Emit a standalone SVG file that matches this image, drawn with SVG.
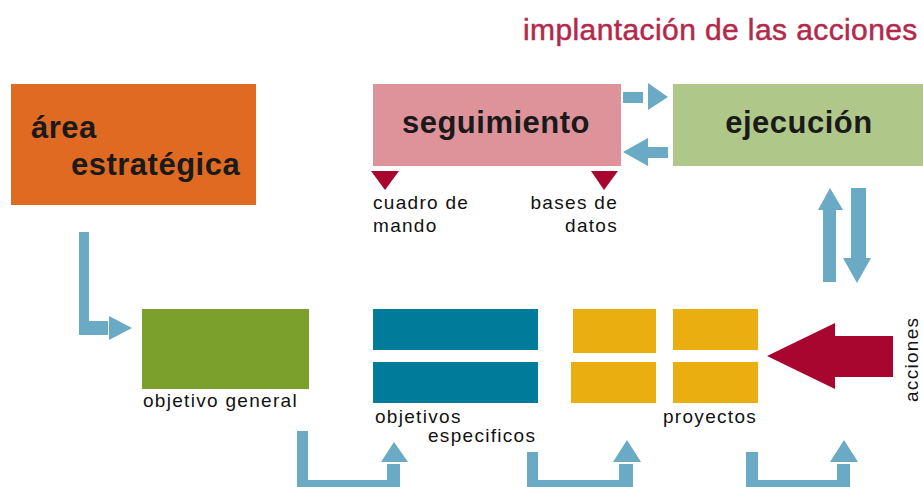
<svg xmlns="http://www.w3.org/2000/svg" width="923" height="487" viewBox="0 0 923 487">
<style>
.big{font-family:"Liberation Sans",Arial,sans-serif;font-weight:bold;font-size:31px;letter-spacing:0.5px;fill:#1a1a1a}
.lbl{font-family:"Liberation Sans",Arial,sans-serif;font-size:19px;letter-spacing:1.3px;fill:#111}
.conn{fill:#6aaac4}
.red{fill:#a8062f}
</style>
<rect width="923" height="487" fill="#fff"/>
<text x="523" y="40" font-family="Liberation Sans,Arial,sans-serif" font-size="30" letter-spacing="0.4" fill="#b3294c" stroke="#b3294c" stroke-width="0.5">implantación de las acciones</text>

<g id="area">
<rect x="11" y="84" width="245" height="121" fill="#e06a22"/>
<text class="big" x="31" y="138">área</text>
<text class="big" x="71" y="175">estratégica</text>
</g>
<g id="seguimiento">
<rect x="373" y="84" width="248" height="82" fill="#de939b"/>
<text class="big" x="496" y="133" text-anchor="middle">seguimiento</text>
<polygon class="red" points="371,171 399,171 385,190"/>
<polygon class="red" points="591,171 618,171 604,190"/>
<text class="lbl" x="373" y="209">cuadro de</text>
<text class="lbl" x="373" y="232">mando</text>
<text class="lbl" x="618" y="209" text-anchor="end">bases de</text>
<text class="lbl" x="618" y="232" text-anchor="end">datos</text>
</g>
<g id="ejecucion">
<rect x="673" y="84" width="250" height="82" fill="#afc88a"/>
<text class="big" x="799" y="133" text-anchor="middle">ejecución</text>
</g>
<g id="objetivo-general">
<rect x="142" y="309" width="167" height="80" fill="#7ba02c"/>
<text class="lbl" x="143" y="407">objetivo general</text>
</g>
<g id="objetivos-especificos">
<rect x="373" y="309" width="165" height="41" fill="#007b9a"/>
<rect x="373" y="362" width="165" height="41" fill="#007b9a"/>
<text class="lbl" x="375" y="423">objetivos</text>
<text class="lbl" x="428" y="442">especificos</text>
</g>
<g id="proyectos">
<rect x="573" y="309" width="83" height="44" fill="#ebae10"/>
<rect x="571" y="362" width="85" height="41" fill="#ebae10"/>
<rect x="673" y="309" width="85" height="41" fill="#ebae10"/>
<rect x="673" y="362" width="85" height="41" fill="#ebae10"/>
<text class="lbl" x="663" y="423">proyectos</text>
</g>
<g id="acciones">
<polygon class="red" points="767,356 835,323 835,336 893,336 893,377 835,377 835,389"/>
<text class="lbl" transform="translate(918,402) rotate(-90)">acciones</text>
</g>

<g id="connectors">
<rect class="conn" x="623" y="92" width="20" height="11"/>
<polygon class="conn" points="648,83 668,97 648,110"/>
<polygon class="conn" points="623,152 648,138 648,166"/>
<rect class="conn" x="648" y="147" width="20" height="11"/>
<polygon class="conn" points="830,188 843,210 818,210"/>
<rect class="conn" x="823" y="210" width="13" height="72"/>
<rect class="conn" x="851" y="188" width="15" height="70"/>
<polygon class="conn" points="843,258 871,258 857,283"/>
<polygon class="conn" points="79,232 89,232 89,321 108,321 108,335 79,335"/>
<polygon class="conn" points="109,316 132,328 109,340"/>
<polygon class="conn" points="297,431 308,431 308,480 387,480 387,464 400,464 400,487 297,487"/>
<polygon class="conn" points="394,442 408,462 381,462"/>
<polygon class="conn" points="527,452 538,452 538,480 619,480 619,464 633,464 633,487 527,487"/>
<polygon class="conn" points="627,440 641,462 613,462"/>
<polygon class="conn" points="746,452 758,452 758,480 837,480 837,464 850,464 850,487 746,487"/>
<polygon class="conn" points="844,440 858,462 830,462"/>
</g>
</svg>
